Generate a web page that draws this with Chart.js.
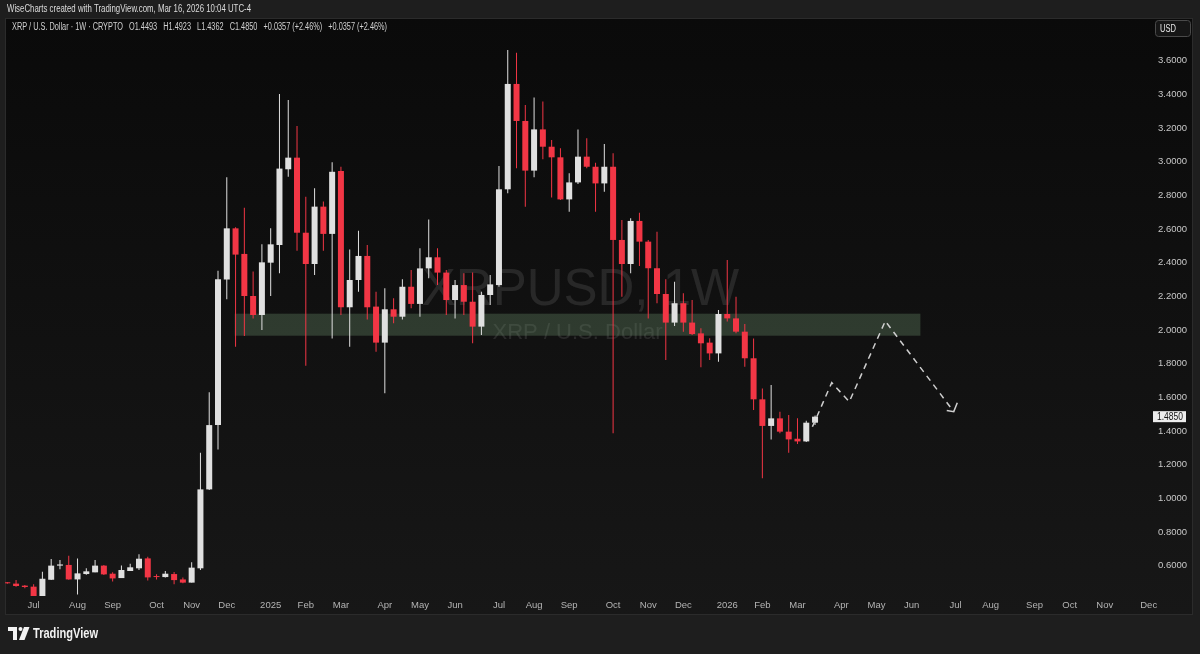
<!DOCTYPE html>
<html>
<head>
<meta charset="utf-8">
<title>XRPUSD 1W</title>
<script src="https://cdn.jsdelivr.net/npm/chart.js@4.4.1/dist/chart.umd.min.js"></script>
<style>
html, body { margin: 0; padding: 0; background: #1e1e1e; }
#wrap { position: relative; width: 1200px; height: 654px; }
</style>
</head>
<body>
<div id="wrap"><canvas id="myChart" width="1200" height="654"></canvas></div>
<script>
// weekly candles, first one is the week of 2024-06-10, last one 2026-03-16
var opens = [0.498, 0.493, 0.481, 0.475, 0.415, 0.516, 0.600, 0.604, 0.518, 0.550,
             0.560, 0.600, 0.552, 0.526, 0.568, 0.584, 0.643, 0.535, 0.532, 0.550,
             0.518, 0.499, 0.584, 1.053, 1.435, 2.300, 2.604, 2.452, 2.202, 2.089,
             2.400, 2.505, 2.955, 3.024, 2.578, 2.392, 2.733, 2.571, 2.945, 2.135,
             2.297, 2.440, 2.139, 1.925, 2.123, 2.079, 2.257, 2.155, 2.366, 2.432,
             2.341, 2.178, 2.267, 2.168, 2.020, 2.208, 2.267, 2.836, 3.462, 3.242,
             2.947, 3.192, 3.089, 3.026, 2.776, 2.877, 3.030, 2.970, 2.871, 2.970,
             2.535, 2.392, 2.648, 2.525, 2.367, 2.214, 2.044, 2.159, 2.044, 1.980,
             1.925, 1.861, 2.095, 2.069, 1.990, 1.832, 1.588, 1.430, 1.475, 1.396,
             1.354, 1.338, 1.4493];
var highs = [0.503, 0.515, 0.485, 0.489, 0.564, 0.639, 0.633, 0.659, 0.643, 0.584,
             0.633, 0.604, 0.560, 0.600, 0.611, 0.667, 0.653, 0.548, 0.568, 0.562,
             0.530, 0.620, 1.271, 1.630, 2.352, 2.907, 2.610, 2.727, 2.347, 2.509,
             2.604, 3.402, 3.367, 3.212, 2.792, 2.842, 2.763, 2.996, 2.970, 2.479,
             2.590, 2.505, 2.228, 2.248, 2.188, 2.301, 2.357, 2.485, 2.657, 2.485,
             2.357, 2.297, 2.337, 2.341, 2.228, 2.327, 2.974, 3.664, 3.648, 3.337,
             3.382, 3.357, 3.129, 3.080, 2.931, 3.192, 3.139, 2.994, 3.105, 3.050,
             2.654, 2.664, 2.697, 2.535, 2.584, 2.301, 2.287, 2.218, 2.178, 2.010,
             1.951, 2.119, 2.416, 2.198, 2.036, 1.950, 1.653, 1.673, 1.515, 1.495,
             1.475, 1.461, 1.4923];
var lows = [0.492, 0.475, 0.465, 0.411, 0.410, 0.515, 0.578, 0.516, 0.429, 0.546,
            0.560, 0.544, 0.505, 0.526, 0.568, 0.574, 0.511, 0.518, 0.530, 0.489,
            0.495, 0.499, 0.574, 1.050, 1.290, 2.182, 1.901, 1.964, 2.069, 2.000,
            2.202, 2.337, 2.911, 2.471, 1.788, 2.327, 2.471, 1.950, 2.089, 1.901,
            2.228, 2.063, 1.871, 1.624, 2.040, 2.063, 2.129, 2.079, 2.307, 2.267,
            2.089, 2.069, 2.089, 1.921, 1.970, 2.149, 2.257, 2.812, 2.961, 2.733,
            2.907, 3.014, 2.788, 2.772, 2.703, 2.867, 2.961, 2.703, 2.822, 1.386,
            2.198, 2.337, 2.380, 2.069, 2.159, 1.822, 2.024, 1.990, 1.970, 1.778,
            1.822, 1.812, 2.050, 1.980, 1.782, 1.525, 1.119, 1.350, 1.386, 1.271,
            1.323, 1.335, 1.4362];
var closes = [0.495, 0.479, 0.473, 0.415, 0.522, 0.600, 0.607, 0.518, 0.554, 0.566,
              0.600, 0.548, 0.524, 0.574, 0.590, 0.641, 0.530, 0.532, 0.552, 0.514,
              0.499, 0.588, 1.053, 1.435, 2.301, 2.604, 2.448, 2.202, 2.089, 2.402,
              2.509, 2.959, 3.024, 2.578, 2.392, 2.733, 2.571, 2.940, 2.135, 2.297,
              2.440, 2.135, 1.925, 2.123, 2.079, 2.257, 2.155, 2.366, 2.432, 2.341,
              2.178, 2.267, 2.168, 2.020, 2.208, 2.271, 2.836, 3.462, 3.242, 2.947,
              3.192, 3.089, 3.026, 2.776, 2.877, 3.030, 2.970, 2.871, 2.970, 2.535,
              2.392, 2.648, 2.525, 2.367, 2.214, 2.044, 2.159, 2.044, 1.976, 1.921,
              1.861, 2.095, 2.069, 1.990, 1.832, 1.588, 1.430, 1.475, 1.396, 1.350,
              1.338, 1.4493, 1.4850];

// time axis: week index of the first bar of each month
var tickWeeks = [3, 8, 12, 17, 21, 25, 30, 34, 38, 43, 47, 51, 56, 60, 64, 69, 73, 77,
                 82, 86, 90, 95, 99, 103, 108, 112, 117, 121, 125, 130];
var tickLabels = ['Jul', 'Aug', 'Sep', 'Oct', 'Nov', 'Dec', '2025', 'Feb', 'Mar', 'Apr', 'May', 'Jun',
                  'Jul', 'Aug', 'Sep', 'Oct', 'Nov', 'Dec', '2026', 'Feb', 'Mar', 'Apr', 'May', 'Jun',
                  'Jul', 'Aug', 'Sep', 'Oct', 'Nov', 'Dec'];
var priceTicks = [0.6, 0.8, 1.0, 1.2, 1.4, 1.6, 1.8, 2.0, 2.2, 2.4, 2.6, 2.8, 3.0, 3.2, 3.4, 3.6];

// drawings: support zone and projected path
var zoneWeeks = [25.9, 104.0];
var zonePrices = [1.966, 2.097];
var pathWeeks = [91.7, 93.9, 95.9, 100.0, 107.8];
var pathPrices = [1.425, 1.687, 1.574, 2.053, 1.515];
var arrowWeeks = [107.0, 107.8, 108.2];
var arrowPrices = [1.521, 1.515, 1.568];

var upColor = '#e0e0e0';
var downColor = '#f23645';
var uiFont = "'Liberation Sans', Arial, sans-serif";

var wickData = [], bodyData = [], candleColors = [];
for (var i = 0; i < opens.length; i++) {
    wickData.push({x: i, y: [lows[i], highs[i]]});
    bodyData.push({x: i, y: [Math.min(opens[i], closes[i]), Math.max(opens[i], closes[i])]});
    candleColors.push(closes[i] >= opens[i] ? upColor : downColor);
}
var pathData = pathWeeks.map(function(w, k){ return {x: w, y: pathPrices[k]}; });
var arrowData = arrowWeeks.map(function(w, k){ return {x: w, y: arrowPrices[k]}; });

var tvDecor = {
    id: 'tvDecor',
    beforeDraw: function(chart) {
        var ctx = chart.ctx;
        var a = chart.chartArea;
        ctx.save();
        ctx.fillStyle = '#1e1e1e';
        ctx.fillRect(0, 0, chart.width, chart.height);
        var g = ctx.createLinearGradient(0, 18, 0, 615);
        g.addColorStop(0, '#0a0a0a');
        g.addColorStop(1, '#171717');
        ctx.fillStyle = g;
        ctx.fillRect(5, 18, 1188, 597);
        ctx.strokeStyle = '#2b2b2b';
        ctx.lineWidth = 1;
        ctx.strokeRect(5.5, 18.5, 1187, 596);

        // symbol watermark
        var cx = (a.left + a.right) / 2;
        ctx.fillStyle = 'rgba(255,255,255,0.1)';
        ctx.textAlign = 'center';
        ctx.textBaseline = 'middle';
        ctx.font = '51px ' + uiFont;
        ctx.fillText('XRPUSD, 1W', cx + 3, 291);
        ctx.font = '22px ' + uiFont;
        ctx.fillText('XRP / U.S. Dollar', cx, 333);
        ctx.restore();
    },
    beforeDatasetsDraw: function(chart) {
        var ctx = chart.ctx;
        var xs = chart.scales.x, ys = chart.scales.y;
        var x0 = xs.getPixelForValue(zoneWeeks[0]), x1 = xs.getPixelForValue(zoneWeeks[1]);
        var y0 = ys.getPixelForValue(zonePrices[1]), y1 = ys.getPixelForValue(zonePrices[0]);
        ctx.save();
        ctx.fillStyle = 'rgba(110,145,110,0.33)';
        ctx.fillRect(x0, y0, x1 - x0, y1 - y0);
        ctx.restore();
    },
    afterDraw: function(chart) {
        var ctx = chart.ctx;
        var n = closes.length;
        var chg = closes[n - 1] - closes[n - 2];
        var pct = chg / closes[n - 2] * 100;
        var sign = chg >= 0 ? '+' : '';
        var chgText = sign + chg.toFixed(4) + ' (' + sign + pct.toFixed(2) + '%)';
        var legend = 'XRP / U.S. Dollar \u00b7 1W \u00b7 CRYPTO   O' + opens[n - 1].toFixed(4) +
            '   H' + highs[n - 1].toFixed(4) + '   L' + lows[n - 1].toFixed(4) +
            '   C' + closes[n - 1].toFixed(4) + '   ' + chgText + '   ' + chgText;

        ctx.save();
        ctx.textBaseline = 'middle';
        ctx.textAlign = 'left';
        ctx.fillStyle = '#dcdcdc';
        ctx.font = '10px ' + uiFont;
        ctx.fillText('WiseCharts created with TradingView.com, Mar 16, 2026 10:04 UTC-4', 7, 9, 244);
        ctx.fillStyle = '#d0d0d0';
        ctx.fillText(legend, 12, 27, 375);

        // currency box
        ctx.fillStyle = '#161616';
        ctx.strokeStyle = '#4a4a4a';
        ctx.beginPath();
        ctx.roundRect(1155.5, 20.5, 35, 16, 3);
        ctx.fill();
        ctx.stroke();
        ctx.fillStyle = '#e6e6e6';
        ctx.fillText('USD', 1160, 29, 16);

        // last price label
        var py = chart.scales.y.getPixelForValue(closes[n - 1]);
        ctx.fillStyle = '#ececec';
        ctx.fillRect(1153, py - 5.5, 33, 11);
        ctx.fillStyle = '#141414';
        ctx.fillText(closes[n - 1].toFixed(4), 1157, py + 0.5, 26);

        // TradingView logo
        ctx.fillStyle = '#f2f2f2';
        ctx.fillRect(8, 627, 9, 4);
        ctx.fillRect(13, 627, 4, 13);
        ctx.beginPath();
        ctx.arc(20.5, 629, 2, 0, Math.PI * 2);
        ctx.fill();
        ctx.beginPath();
        ctx.moveTo(24, 627);
        ctx.lineTo(29.5, 627);
        ctx.lineTo(24.5, 640);
        ctx.lineTo(19, 640);
        ctx.closePath();
        ctx.fill();
        ctx.font = 'bold 15px ' + uiFont;
        ctx.fillText('TradingView', 33, 634, 65);
        ctx.restore();
    }
};

var ctx = document.getElementById('myChart');
var chart = new Chart(ctx, {
    data: {
        datasets: [
            {
                type: 'line',
                data: arrowData,
                borderColor: '#cfcfcf',
                borderWidth: 1.5,
                pointRadius: 0,
                order: 0
            },
            {
                type: 'line',
                data: pathData,
                borderColor: '#cfcfcf',
                borderWidth: 1.5,
                borderDash: [6, 5],
                pointRadius: 0,
                order: 1
            },
            {
                type: 'bar',
                data: bodyData,
                backgroundColor: candleColors,
                barThickness: 6,
                minBarLength: 1,
                grouped: false,
                inflateAmount: 0,
                order: 2
            },
            {
                type: 'bar',
                data: wickData,
                backgroundColor: candleColors,
                barThickness: 1,
                grouped: false,
                inflateAmount: 0,
                order: 3
            }
        ]
    },
    options: {
        responsive: false,
        animation: false,
        devicePixelRatio: 1,
        layout: { padding: { left: 5, top: 18, right: 7, bottom: 40 } },
        plugins: { legend: { display: false }, tooltip: { enabled: false } },
        scales: {
            x: {
                type: 'linear',
                offset: false,
                min: -0.26,
                max: 130.15,
                grid: { display: false, drawTicks: false, offset: false },
                border: { display: false },
                afterBuildTicks: function(axis) {
                    axis.ticks = tickWeeks.map(function(w){ return {value: w}; });
                },
                afterFit: function(axis) { axis.height = 18; },
                ticks: {
                    autoSkip: false,
                    maxRotation: 0,
                    padding: 4,
                    color: '#b4b4b4',
                    font: { family: uiFont, size: 9.5 },
                    callback: function(value, index) { return tickLabels[index]; }
                }
            },
            y: {
                type: 'linear',
                position: 'right',
                min: 0.4195,
                max: 3.8538,
                grid: { display: false, drawTicks: false },
                border: { display: false },
                afterBuildTicks: function(axis) {
                    axis.ticks = priceTicks.map(function(p){ return {value: p}; });
                },
                afterFit: function(axis) { axis.width = 43; },
                ticks: {
                    padding: 8,
                    color: '#c8c8c8',
                    font: { family: uiFont, size: 9.5 },
                    callback: function(value) { return value.toFixed(4); }
                }
            }
        }
    },
    plugins: [tvDecor]
});
</script>
</body>
</html>
